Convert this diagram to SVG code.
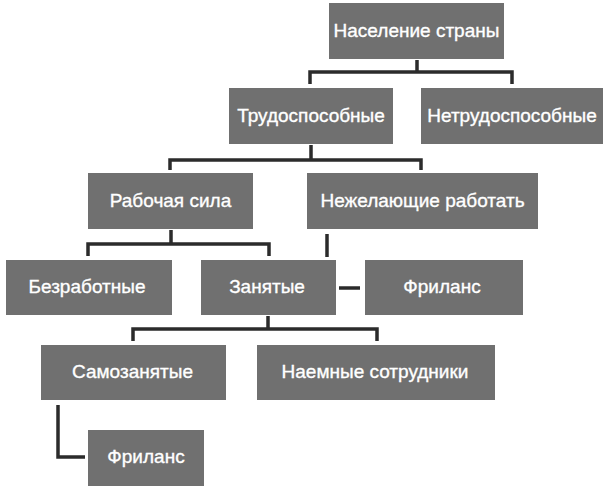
<svg xmlns="http://www.w3.org/2000/svg" width="611" height="490" viewBox="0 0 611 490">
<style>
.box{fill:#707070}
.t{fill:#ffffff;stroke:#ffffff;stroke-width:0.35;font-family:"Liberation Sans",Arial,sans-serif;font-size:19px;text-anchor:middle;dominant-baseline:central}
.c{fill:none;stroke:#2b2b2b;stroke-width:3.5;stroke-linejoin:miter}
</style>
<rect width="611" height="490" fill="#ffffff"/>
<g id="connectors">
<path class="c" d="M417 60V72M310 84V72H512V84"/>
<path class="c" d="M311 145V160M170 170V160H421V170"/>
<path class="c" d="M171 230V244M88 256V244H269V256"/>
<path class="c" d="M327 234V257"/>
<path class="c" d="M339 288H360"/>
<path class="c" d="M268 316V329M133 341V329H377V341"/>
<path class="c" d="M58 405V457H85"/>
</g>
<g id="n-naselenie"><rect class="box" x="329" y="3" width="175" height="56"/><text class="t" x="416.5" y="30">Население страны</text></g>
<g id="n-trudosp"><rect class="box" x="229" y="88" width="164" height="56"/><text class="t" x="311" y="115">Трудоспособные</text></g>
<g id="n-netrudosp"><rect class="box" x="421" y="88" width="182" height="56"/><text class="t" x="512" y="115">Нетрудоспособные</text></g>
<g id="n-rabsila"><rect class="box" x="88" y="173" width="165" height="56"/><text class="t" x="170.5" y="200">Рабочая сила</text></g>
<g id="n-nezhel"><rect class="box" x="307" y="173" width="231" height="56"/><text class="t" x="422.5" y="200">Нежелающие работать</text></g>
<g id="n-bezrab"><rect class="box" x="6" y="260" width="166" height="55"/><text class="t" x="87" y="286">Безработные</text></g>
<g id="n-zanyat"><rect class="box" x="201" y="260" width="135" height="55"/><text class="t" x="267" y="286">Занятые</text></g>
<g id="n-freelance1"><rect class="box" x="365" y="260" width="158" height="55"/><text class="t" x="442" y="286">Фриланс</text></g>
<g id="n-samozan"><rect class="box" x="41" y="345" width="185" height="55"/><text class="t" x="132.5" y="371">Самозанятые</text></g>
<g id="n-naemn"><rect class="box" x="257" y="345" width="238" height="55"/><text class="t" x="375" y="371">Наемные сотрудники</text></g>
<g id="n-freelance2"><rect class="box" x="88" y="430" width="116" height="56"/><text class="t" x="146" y="456">Фриланс</text></g>
</svg>
